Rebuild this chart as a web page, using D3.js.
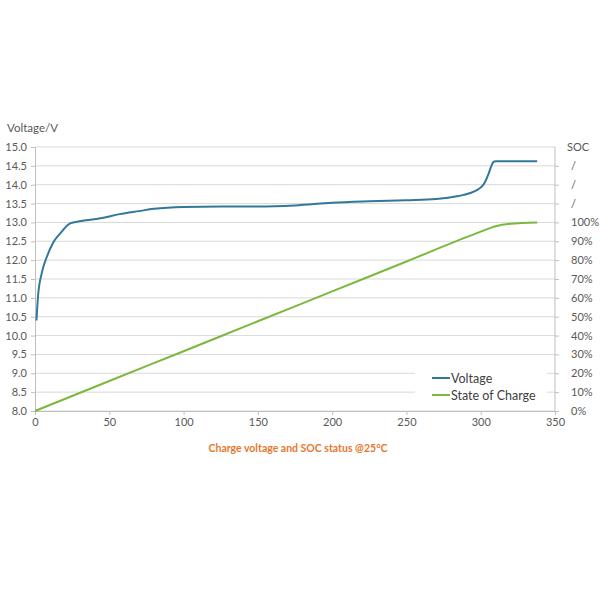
<!DOCTYPE html>
<html><head><meta charset="utf-8">
<script src="https://cdn.jsdelivr.net/npm/d3@7"></script>
<style>body{margin:0;background:#fff}</style>
</head><body>
<svg id="c" width="600" height="600"></svg>
<script>
const timeV = [1, 2, 4.5, 8, 12, 17, 24, 30, 44, 57, 70, 80, 100, 125, 150, 175, 200, 225, 250, 270, 285, 293, 298, 301, 303, 305, 307, 308.5, 310, 338];
const voltage = [10.4, 11.03, 11.65, 12.09, 12.45, 12.71, 12.98, 13.03, 13.11, 13.22, 13.3, 13.36, 13.41, 13.42, 13.42, 13.45, 13.52, 13.56, 13.59, 13.62, 13.7, 13.78, 13.87, 13.96, 14.08, 14.26, 14.48, 14.6, 14.62, 14.62];
const timeS = [0, 50, 100, 150, 200, 250, 300, 310, 320, 338];
const soc = [0, 15.9, 31.7, 47.6, 63.4, 79.3, 95.1, 98.0, 99.3, 100];
const xTicks = [0, 50, 100, 150, 200, 250, 300, 350];
const vTicks = [8.0, 8.5, 9.0, 9.5, 10.0, 10.5, 11.0, 11.5, 12.0, 12.5, 13.0, 13.5, 14.0, 14.5, 15.0];
const socTickVals = [0, 10, 20, 30, 40, 50, 60, 70, 80, 90, 100, 110, 120, 130];
const socTickLabels = ["0%", "10%", "20%", "30%", "40%", "50%", "60%", "70%", "80%", "90%", "100%", "/", "/", "/"];
const seriesNames = ["Voltage", "State of Charge"];
const colors = ["#31789a", "#7cb83e"];

const svg = d3.select("#c");
const L = 35, R = 555, T = 147, B = 411;
const x = d3.scaleLinear().domain([0, 350]).range([L, R]);
const y = d3.scaleLinear().domain([8, 15]).range([B, T]);
const ys = d3.scaleLinear().domain([0, 100]).range([y(8), y(13)]);
const font = "Lato, 'Open Sans', sans-serif";
const grey = "#595959";

svg.append("g").selectAll("line").data(vTicks).join("line")
  .attr("x1", L).attr("x2", R).attr("y1", d => y(d)).attr("y2", d => y(d))
  .attr("stroke", "#d9d9d9").attr("stroke-width", 1);

const gl = svg.append("g").attr("transform", `translate(${L},0)`)
  .call(d3.axisLeft(y).tickValues(vTicks).tickFormat(d3.format(".1f")).tickSize(4).tickPadding(4));
gl.select(".domain").attr("stroke", "#bfbfbf");
gl.selectAll(".tick line").attr("stroke", "#bfbfbf");
gl.selectAll("text").attr("fill", grey).attr("font-size", 11).attr("font-family", font);

const gb = svg.append("g").attr("transform", `translate(0,${B})`)
  .call(d3.axisBottom(x).tickValues(xTicks).tickSize(4).tickPadding(3));
gb.select(".domain").attr("stroke", "#bfbfbf");
gb.selectAll(".tick line").attr("stroke", "#bfbfbf");
gb.selectAll("text").attr("fill", grey).attr("font-size", 11).attr("font-family", font);

const gr = svg.append("g").attr("transform", `translate(${R},0)`)
  .call(d3.axisRight(ys).tickValues(socTickVals).tickFormat((d, i) => socTickLabels[i]).tickSize(4).tickPadding(12));
gr.select(".domain").remove();
gr.append("line").attr("x1", 0).attr("x2", 0).attr("y1", T).attr("y2", B).attr("stroke", "#bfbfbf");
gr.selectAll(".tick line").attr("stroke", "#bfbfbf");
gr.selectAll("text").attr("fill", grey).attr("font-size", 11).attr("font-family", font);

svg.append("text").attr("x", 7).attr("y", 132).text("Voltage/V")
  .attr("fill", grey).attr("font-size", 11.5).attr("font-family", font);
svg.append("text").attr("x", 567).attr("y", y(15) + 4).text("SOC")
  .attr("fill", grey).attr("font-size", 11).attr("font-family", font);

const lineV = d3.line().x((d, i) => x(timeV[i])).y(d => y(d)).curve(d3.curveMonotoneX);
svg.append("path").attr("d", lineV(voltage)).attr("fill", "none")
  .attr("stroke", colors[0]).attr("stroke-width", 2);
const lineS = d3.line().x((d, i) => x(timeS[i])).y(d => ys(d)).curve(d3.curveMonotoneX);
svg.append("path").attr("d", lineS(soc)).attr("fill", "none")
  .attr("stroke", colors[1]).attr("stroke-width", 2);

const lg = svg.append("g");
lg.append("rect").attr("x", 415).attr("y", 366).attr("width", 132).attr("height", 40).attr("fill", "#fff");
seriesNames.forEach((n, i) => {
  const yy = 378 + i * 17;
  lg.append("line").attr("x1", 432).attr("x2", 450).attr("y1", yy).attr("y2", yy)
    .attr("stroke", colors[i]).attr("stroke-width", 2);
  lg.append("text").attr("x", 451).attr("y", yy + 5).text(n)
    .attr("fill", "#404040").attr("font-size", 12.5).attr("font-family", font);
});

svg.append("text").attr("x", 298).attr("y", 452).attr("text-anchor", "middle")
  .text("Charge voltage and SOC status @25°C")
  .attr("fill", "#e8772e").attr("font-size", 10.5).attr("font-weight", "bold").attr("font-family", font);
</script>
</body></html>
